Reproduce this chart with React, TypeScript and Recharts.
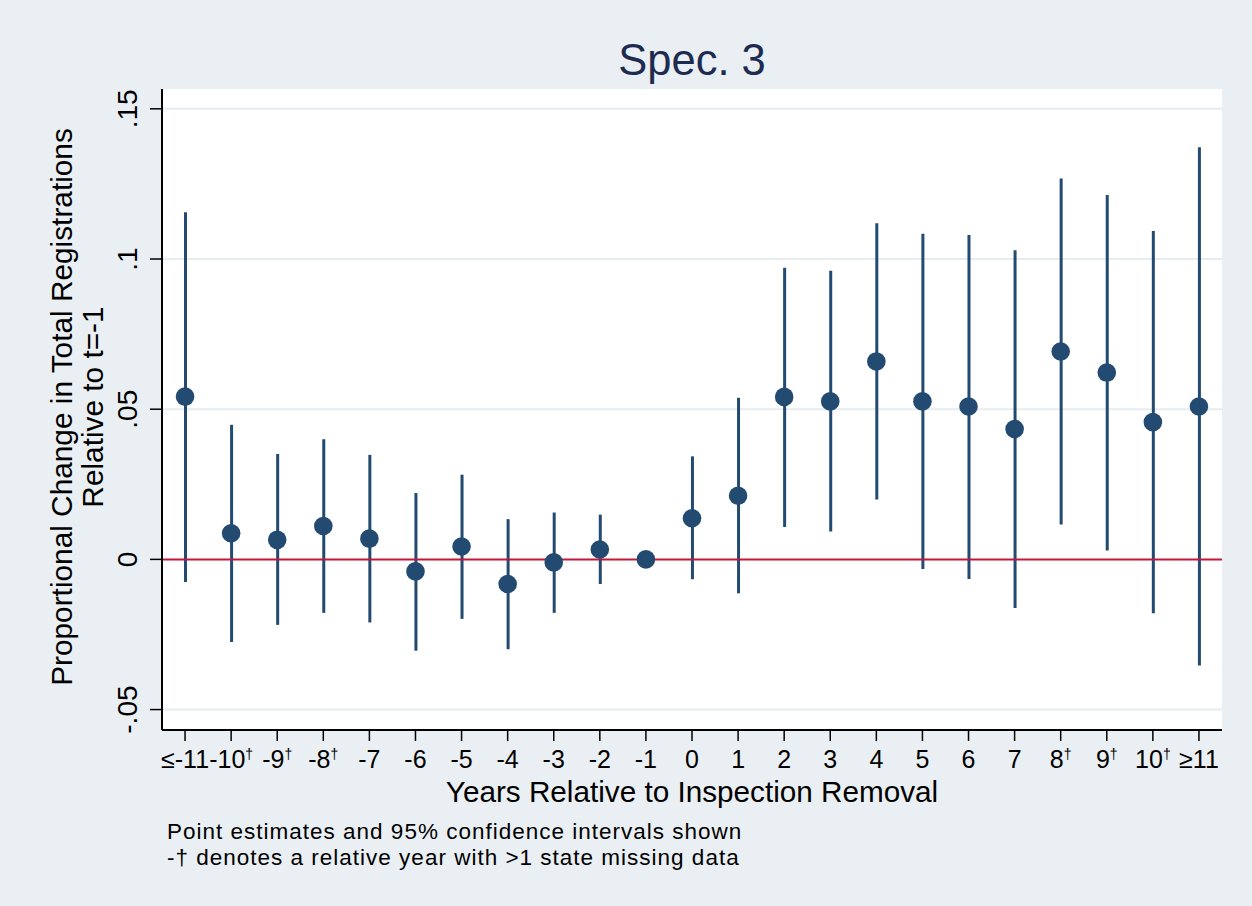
import {
  Bar,
  CartesianGrid,
  ComposedChart,
  ReferenceLine,
  Scatter,
  XAxis,
  YAxis,
} from "recharts";

const categories = ["≤-11", "-10†", "-9†", "-8†", "-7", "-6", "-5", "-4", "-3", "-2", "-1", "0", "1", "2", "3", "4", "5", "6", "7", "8†", "9†", "10†", "≥11"];
const estimates = [0.0542, 0.0087, 0.0065, 0.0111, 0.0069, -0.004, 0.0043, -0.0082, -0.001, 0.0033, 0, 0.0137, 0.0212, 0.0541, 0.0526, 0.0659, 0.0526, 0.0509, 0.0434, 0.0692, 0.0622, 0.0457, 0.0509];
const ciLower = [-0.0075, -0.0275, -0.0218, -0.0178, -0.021, -0.0304, -0.0198, -0.0299, -0.0178, -0.0082, null, -0.0066, -0.0113, 0.0108, 0.0093, 0.0199, -0.0032, -0.0065, -0.0162, 0.0116, 0.003, -0.0179, -0.0353];
const ciUpper = [0.1156, 0.0448, 0.0351, 0.04, 0.0348, 0.0221, 0.0282, 0.0134, 0.0156, 0.0149, null, 0.0343, 0.0538, 0.0971, 0.0961, 0.1119, 0.1084, 0.108, 0.1029, 0.1268, 0.1213, 0.1093, 0.1372];
const yTicks = [-0.05, 0, 0.05, 0.1, 0.15];
const yTickLabels = ["-.05", "0", ".05", ".1", ".15"];

const data = categories.map((label, i) => ({
  label,
  est: estimates[i],
  ci: ciLower[i] == null ? null : [ciLower[i], ciUpper[i]],
}));

const FONT = "'Liberation Sans', Arial, Helvetica, sans-serif";
const NAVY = "#234a70";
const BG = "#eaeff3";

function YTick({ x, y, payload }: any) {
  const i = yTicks.indexOf(payload.value);
  const tx = x - 11;
  return (
    <text x={tx} y={y} transform={`rotate(-90, ${tx}, ${y})`} textAnchor="middle" fontSize={28} fontFamily={FONT} fill="#000">
      {i >= 0 ? yTickLabels[i] : payload.value}
    </text>
  );
}

function XTick({ x, y, payload }: any) {
  const raw: string = payload.value;
  const dagger = raw.endsWith("†");
  const base = dagger ? raw.slice(0, -1) : raw;
  return (
    <text x={x} y={y + 25} textAnchor="middle" fontSize={25} fontFamily={FONT} fill="#000">
      <tspan>{base}</tspan>
      {dagger && (
        <tspan fontSize={14} dy={-9}>
          †
        </tspan>
      )}
    </text>
  );
}

function Dot({ cx, cy }: any) {
  return <circle cx={cx} cy={cy} r={9.3} fill={NAVY} />;
}

export default function App() {
  return (
    <div style={{ position: "absolute", left: 0, top: 0, width: 1252, height: 906, background: BG }}>
      <ComposedChart
        width={1252}
        height={906}
        data={data}
        margin={{ top: 89, right: 30, bottom: 136, left: 62 }}
      >
        <CartesianGrid fill="#fff" stroke="#e6ecf0" strokeWidth={2} vertical={false} horizontalValues={[-0.05, 0.05, 0.1, 0.15]} />
        <XAxis
          dataKey="label"
          type="category"
          height={40}
          tickSize={11}
          interval={0}
          axisLine={{ stroke: "#000", strokeWidth: 2 }}
          tickLine={{ stroke: "#000", strokeWidth: 1.5 }}
          tick={<XTick />}
        />
        <YAxis
          type="number"
          width={100}
          domain={[-0.0568, 0.1566]}
          ticks={yTicks}
          tickSize={12}
          axisLine={{ stroke: "#000", strokeWidth: 2 }}
          tickLine={{ stroke: "#000", strokeWidth: 1.5 }}
          tick={<YTick />}
          allowDataOverflow
        />
        <ReferenceLine y={0} stroke="#c3173a" strokeWidth={2} />
        <Bar dataKey="ci" barSize={3} fill={NAVY} isAnimationActive={false} />
        <Scatter dataKey="est" shape={<Dot />} isAnimationActive={false} />
      </ComposedChart>
      <svg width={1252} height={906} style={{ position: "absolute", left: 0, top: 0, pointerEvents: "none" }}>
        <text x={692} y={75} textAnchor="middle" fontSize={43.5} fontFamily={FONT} fill="#1e2b50">
          Spec. 3
        </text>
        <text x={72} y={407} transform="rotate(-90, 72, 407)" textAnchor="middle" fontSize={29.8} fontFamily={FONT} fill="#000">
          Proportional Change in Total Registrations
        </text>
        <text x={103} y={407} transform="rotate(-90, 103, 407)" textAnchor="middle" fontSize={29.8} fontFamily={FONT} fill="#000">
          Relative to t=-1
        </text>
        <text x={692} y={802} textAnchor="middle" fontSize={29.7} fontFamily={FONT} fill="#000">
          Years Relative to Inspection Removal
        </text>
        <text x={167} y={839} fontSize={22.5} letterSpacing={1} fontFamily={FONT} fill="#000">
          Point estimates and 95% confidence intervals shown
        </text>
        <text x={167} y={865} fontSize={22.5} letterSpacing={1} fontFamily={FONT} fill="#000">
          -† denotes a relative year with &gt;1 state missing data
        </text>
      </svg>
    </div>
  );
}
